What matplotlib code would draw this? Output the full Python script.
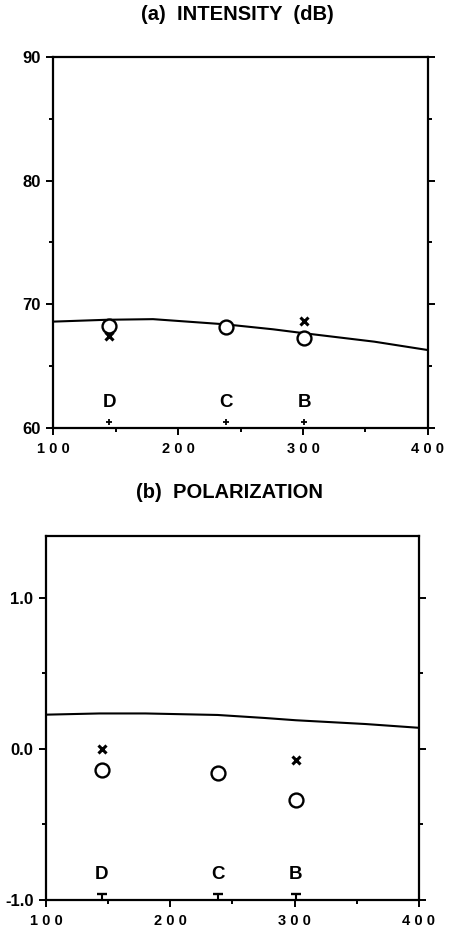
import matplotlib
matplotlib.use('Agg')
from matplotlib import pyplot as plt
from matplotlib.ticker import MultipleLocator

plt.rcParams['font.family'] = ['Liberation Sans', 'DejaVu Sans']
plt.rcParams['font.weight'] = 'bold'

# sites along the track
SITES = ['D', 'C', 'B']
SITE_X = [145, 238, 301]
CROSS_X = [145, 301]

# model curve
MODEL_X = [100, 143, 180, 238, 276, 301, 357, 400]
MODEL_INTENSITY = [68.6, 68.75, 68.8, 68.38, 67.98, 67.66, 66.98, 66.3]
MODEL_POLARIZATION = [0.227, 0.235, 0.235, 0.225, 0.205, 0.19, 0.165, 0.14]

# observations
INTENSITY_CIRCLES = [68.25, 68.2, 67.3]
INTENSITY_CROSSES = [67.4, 68.65]
POLARIZATION_CIRCLES = [-0.14, -0.16, -0.34]
POLARIZATION_CROSSES = [0.0, -0.07]

X_TICKS = [100, 200, 300, 400]
X_TICK_LABELS = ['1 0 0', '2 0 0', '3 0 0', '4 0 0']
INTENSITY_TICKS = [60, 70, 80, 90]
INTENSITY_TICK_LABELS = ['60', '70', '80', '90']
POLARIZATION_TICKS = [-1.0, 0.0, 1.0]
POLARIZATION_TICK_LABELS = ['-1.0', '0.0', '1.0']


def style_axes(ax, yticks, ylabels, yminor):
    ax.set_xlim(100, 400)
    ax.set_xticks(X_TICKS)
    ax.set_xticklabels(X_TICK_LABELS, fontsize=10.5, fontweight='bold')
    ax.xaxis.set_minor_locator(MultipleLocator(50))
    ax.set_yticks(yticks)
    ax.set_yticklabels(ylabels, fontsize=12, fontweight='bold')
    ax.yaxis.set_minor_locator(MultipleLocator(yminor))
    ax.tick_params(which='both', direction='out', width=1.4,
                   left=True, right=True, top=False, bottom=True)
    ax.tick_params(which='major', length=5)
    ax.tick_params(which='minor', length=3)
    ax.tick_params(axis='x', which='major', pad=5)
    ax.tick_params(axis='y', which='major', pad=4)
    for s in ax.spines.values():
        s.set_linewidth(1.6)


fig = plt.figure()
fig.set_size_inches(4.5, 9.31)

# (a) intensity
ax = fig.add_axes([0.1178, 0.5403, 0.8333, 0.3985])
ax.plot(MODEL_X, MODEL_INTENSITY, '-', color='black', lw=1.5)
ax.plot(SITE_X, INTENSITY_CIRCLES, 'o', mfc='white', mec='black', ms=10, mew=1.7)
ax.plot(CROSS_X, INTENSITY_CROSSES, 'x', color='black', ms=5.5, mew=2.2)
ax.plot(SITE_X, [60.5] * 3, '+', color='black', ms=5, mew=1.3)
for site, x in zip(SITES, SITE_X):
    ax.text(x, 62.1, site, ha='center', va='center', fontsize=13.5,
            fontweight='bold')
ax.set_ylim(60, 90)
style_axes(ax, INTENSITY_TICKS, INTENSITY_TICK_LABELS, 5)
fig.text(0.527, 0.984, '(a)  INTENSITY  (dB)', ha='center', va='center',
         fontsize=14.5, fontweight='bold')

# (b) polarization
ax = fig.add_axes([0.1022, 0.0333, 0.8289, 0.3910])
ax.plot(MODEL_X, MODEL_POLARIZATION, '-', color='black', lw=1.5)
ax.plot(SITE_X, POLARIZATION_CIRCLES, 'o', mfc='white', mec='black', ms=10, mew=1.7)
ax.plot(CROSS_X, POLARIZATION_CROSSES, 'x', color='black', ms=5.5, mew=2.2)
ax.vlines(SITE_X, -1.0, -0.96, color='black', lw=1.5)
ax.plot(SITE_X, [-0.96] * 3, '_', color='black', ms=7, mew=1.7)
for site, x in zip(SITES, SITE_X):
    ax.text(x, -0.83, site, ha='center', va='center', fontsize=13.5,
            fontweight='bold')
ax.set_ylim(-1.0, 1.41)
style_axes(ax, POLARIZATION_TICKS, POLARIZATION_TICK_LABELS, 0.5)
fig.text(0.511, 0.4715, '(b)  POLARIZATION', ha='center', va='center',
         fontsize=14.5, fontweight='bold')

fig.savefig('out.png', dpi=100)
plt.close(fig)
